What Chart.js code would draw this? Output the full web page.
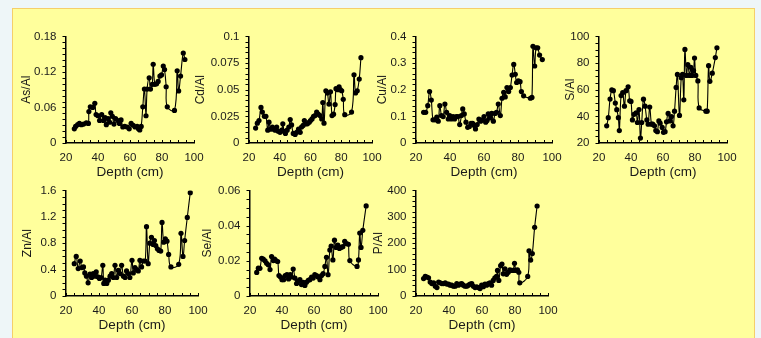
<!DOCTYPE html>
<html>
<head>
<meta charset="utf-8">
<script src="https://cdn.jsdelivr.net/npm/chart.js@4.4.1/dist/chart.umd.min.js"></script>
<style>
  body { margin: 0; background: #eef6f8; width: 761px; height: 338px; overflow: hidden; position: relative; }
  #panel { position: absolute; left: 12px; top: 8px; width: 741px; height: 340px; background: #ffff9c; border: 1.5px solid #f5cf6a; }
  canvas { position: absolute; }
</style>
</head>
<body>
<div id="panel"></div>

<script>
// Dữ liệu: độ sâu (cm) và tỉ số với Al cho từng nguyên tố
const asDepth = [25.2,26,27.3,28.4,29.6,31,32.7,34,34.3,35.2,36.7,38,38.8,40,41,42.3,43.4,44.4,45.2,46.3,47.3,48,49,50,51,52.4,53.4,54.4,55.5,56.7,58.2,59.5,60.7,62,63.2,64.5,65.3,66.1,67,68,69,70,70.7,72,72.8,73.9,74.5,75.5,76.6,77.6,78.7,79.7,80.8,81.6,82.6,83.3,87.8,89.5,90.4,91.6,93.3,94.3];
const asRatio = [0.024,0.028,0.031,0.033,0.031,0.032,0.034,0.033,0.053,0.061,0.06,0.067,0.048,0.046,0.038,0.048,0.038,0.043,0.031,0.041,0.035,0.051,0.045,0.032,0.041,0.038,0.033,0.039,0.027,0.028,0.027,0.024,0.033,0.03,0.027,0.028,0.024,0.022,0.028,0.061,0.091,0.046,0.091,0.11,0.091,0.099,0.133,0.099,0.1,0.104,0.113,0.115,0.13,0.124,0.095,0.061,0.055,0.122,0.088,0.113,0.152,0.141];

const cdDepth = [24.3,25.4,26.5,27.8,28.7,30,31,32.2,33,34,35.2,36.2,37,38,39,40.2,41.3,42,42.8,43.7,44.8,45.9,46.8,47.7,48.8,50,51,52.2,53.3,54.2,55.2,56,57,58,59.2,60,61,62,63,64,65,66.2,67.3,68,68.8,70,71,72,73,74,75,76,76.6,77.7,78.6,79.4,80.3,81.3,82.3,86.7,88.3,89.3,90.4,91.7,92.8];
const cdRatio = [0.014,0.0186,0.021,0.0334,0.029,0.025,0.025,0.012,0.0195,0.013,0.015,0.013,0.012,0.015,0.011,0.01,0.012,0.018,0.011,0.009,0.012,0.015,0.022,0.017,0.009,0.008,0.01,0.013,0.01,0.015,0.0165,0.021,0.018,0.018,0.0195,0.021,0.0226,0.025,0.0257,0.029,0.027,0.0257,0.0226,0.038,0.0186,0.049,0.047,0.0365,0.048,0.0257,0.027,0.036,0.051,0.05,0.0526,0.05,0.049,0.041,0.0266,0.029,0.064,0.047,0.049,0.06,0.08];

const cuDepth = [24.5,25.7,26.9,28,29,30,31.2,32.2,33.1,34,35,36,37,38,39,39.8,40.8,41.8,42.7,43.7,44.7,45.7,46.7,47.5,48.4,49.4,50.4,51.4,52.4,53.3,54.3,55,56,57,58,59,60,61,61.8,62.5,63.5,64.5,65.5,66.5,67.4,68.4,69.6,70.6,71.6,72.5,73.5,74.5,75.5,76.5,77.5,78.4,79.2,80.2,81.2,82,83.3,87.3,88.2,88.8,89.8,90.6,91.6,92.7,94.3];
const cuRatio = [0.115,0.115,0.14,0.193,0.161,0.087,0.087,0.097,0.082,0.14,0.103,0.099,0.146,0.115,0.09,0.103,0.09,0.099,0.09,0.099,0.099,0.069,0.103,0.128,0.109,0.078,0.059,0.062,0.074,0.074,0.066,0.053,0.069,0.09,0.082,0.087,0.099,0.078,0.084,0.109,0.094,0.111,0.082,0.111,0.115,0.146,0.103,0.168,0.19,0.173,0.208,0.193,0.208,0.255,0.295,0.258,0.227,0.233,0.23,0.193,0.177,0.168,0.171,0.363,0.289,0.357,0.357,0.33,0.313];

const sDepth = [24.8,25.8,26.9,28,29,30.2,31.1,32.1,32.7,33.8,34.8,35.9,36.9,38.2,39.2,40,40.9,41.9,43.2,44,45,45.9,46.7,47.8,48.8,49.9,50.7,51.7,52.8,53.6,54.7,55.5,56.5,57.4,58.2,59.5,60.3,61.3,62.2,63.2,64.3,65.3,66.3,67.2,68.2,69,70.3,71.4,72.2,73,73.7,74.7,75.5,76.6,77.4,78.2,79.1,79.7,80.5,81.8,82.6,86.8,87.6,88.5,89.3,90.8,92.7,93.7];
const sRatio = [32.9,39,53,59.8,59.3,50,45,39,29.3,55.6,57.8,47.6,59.3,62.2,51.7,51.2,37.3,41.5,42.7,35.4,45.1,23.7,35.4,52.9,47.6,37.3,34.1,47,34.1,34.1,32.9,29.3,28.5,36.6,34.9,31.7,28,28.5,35.9,42.2,36.6,39.8,32.9,43.9,61.7,71.5,40.7,69,71.5,52.4,90.2,70.7,78.8,70.7,76.8,70.7,74.4,83.7,70.7,66.6,46.3,43.9,43.9,78,66.3,72.4,84.1,91.5];

const znDepth = [25,26.2,27.4,28.6,29.6,30.6,31.4,32.4,33.4,34.5,35.5,36.5,37.5,38.3,39.3,40.3,41.3,42.3,42.9,43.7,44.7,45.7,46.7,47.7,48.7,49.7,50.7,51.7,52.7,53.7,54.8,55.8,56.7,57.7,58.7,60,60.8,61.8,62.8,63.8,64.8,65.8,66.8,68,68.8,69.8,70.8,71.8,72.8,73.6,74.4,75.4,76.4,77.4,78.2,79.2,80.2,81.2,82.2,83.6,88.3,89.7,90.9,91.9,93.5,95.3];
const znRatio = [0.49,0.6,0.415,0.53,0.43,0.44,0.35,0.3,0.2,0.33,0.28,0.34,0.3,0.365,0.29,0.265,0.28,0.465,0.19,0.24,0.19,0.24,0.3,0.34,0.28,0.465,0.28,0.39,0.34,0.465,0.3,0.28,0.38,0.34,0.28,0.54,0.35,0.43,0.4,0.38,0.54,0.44,0.53,0.53,1.05,0.49,0.8,0.89,0.78,0.84,0.765,0.715,0.69,0.68,1.115,0.815,0.865,0.83,0.63,0.44,0.48,0.95,0.6,0.84,1.19,1.565];

const seDepth = [24.2,25.2,26.2,27.3,28.3,29.4,30.4,31.4,32.5,33.5,34.6,35.4,36.2,37.3,38.1,39.1,40,41,42,43.1,44.1,45.2,46,47,48.1,49.1,50.1,51.2,52.2,53.3,54.3,55.3,56.4,57.4,58.5,59.5,60.5,61.6,62.6,63.7,64.7,65.7,66.8,67.8,68.8,69.9,70.7,71.8,72.8,73.8,74.9,75.9,76.9,78,79.2,80.3,81.5,82.4,86.9,87.8,88.6,89.4,90.5,92.6];
const seRatio = [0.0134,0.0158,0.0157,0.0214,0.0209,0.02,0.0186,0.0177,0.015,0.0224,0.0201,0.0209,0.0201,0.0196,0.0116,0.0108,0.0093,0.0093,0.0116,0.0121,0.0097,0.0121,0.0108,0.0153,0.0102,0.0071,0.0084,0.0093,0.0065,0.0078,0.006,0.0078,0.0089,0.0093,0.0108,0.0102,0.0121,0.0116,0.0108,0.0093,0.0116,0.0127,0.0168,0.022,0.0121,0.0261,0.0283,0.0205,0.0317,0.0276,0.0289,0.027,0.0276,0.028,0.0311,0.0298,0.0294,0.0201,0.0168,0.0205,0.0358,0.0276,0.0373,0.0512];

const pDepth = [24.6,25.6,26.6,27.6,28.6,29.6,30.7,31.7,32.7,33.7,34.7,35.7,36.7,37.7,38.7,39.7,40.7,41.7,42.7,43.7,44.7,45.7,46.7,47.7,48.7,49.7,50.8,51.8,52.8,53.8,54.8,55.8,56.8,57.8,58.8,59.8,60.8,61.8,62.8,63.8,64.8,65.8,66.8,67.8,68.8,69.4,70.2,71.3,72.1,72.9,73.9,74.9,75.9,76.9,77.9,78.9,79.7,80.5,81.5,82.3,82.9,87.7,88.5,89.5,90.5,91.9,93.4];
const pRatio = [66,74,72,69,53,47,50,37,32,53,50,47,47,50,45,45,41,41,37,37,47,41,45,47,41,37,37,41,45,47,37,32,35,32,28,41,35,45,41,47,50,41,59,69,74,97,59,115,121,84,103,82,90,99,97,97,124,97,99,90,50,74,171,136,161,260,341];

// Vạch chia nhỏ trên trục (x hướng vào trong, y hướng ra ngoài)
const tickMarks = {
  id: "tickMarks",
  afterDraw(chart, args, opts) {
    const ctx = chart.ctx;
    const x = chart.scales.x;
    const y = chart.scales.y;
    ctx.save();
    ctx.strokeStyle = "#000";
    ctx.lineWidth = 1;
    ctx.beginPath();
    for (let v = x.min; v <= x.max + 1e-9; v += opts.xStep) {
      const px = Math.round(x.getPixelForValue(v)) + 0.5;
      ctx.moveTo(px, y.bottom);
      ctx.lineTo(px, y.bottom - 3);
    }
    for (let v = y.min; v <= y.max + 1e-9; v += opts.yStep) {
      const py = Math.round(y.getPixelForValue(v)) + 0.5;
      ctx.moveTo(x.left, py);
      ctx.lineTo(x.left - 3.5, py);
    }
    ctx.stroke();
    ctx.restore();
  },
};

const font = "'Liberation Sans', Arial, sans-serif";
const ink = "#1a1a1a";

// Hàm vẽ một biểu đồ nhỏ
function addChart(box, label, depth, ratio, yMin, yMax, yStep, yMinor) {
  const YW = 65, PT = 15, PR = 20, XH = 45;
  const canvas = document.createElement("canvas");
  canvas.width = box.r - box.l + YW + PR;
  canvas.height = box.b - box.t + PT + XH;
  canvas.style.left = box.l - YW + "px";
  canvas.style.top = box.t - PT + "px";
  document.body.appendChild(canvas);

  const points = depth.map((d, i) => ({ x: d, y: ratio[i] }));

  new Chart(canvas.getContext("2d"), {
    type: "scatter",
    data: {
      datasets: [{
        data: points,
        showLine: true,
        borderColor: "#000",
        borderWidth: 1.1,
        tension: 0.4,
        pointRadius: 2.6,
        pointBackgroundColor: "#000",
        pointBorderWidth: 0,
      }],
    },
    options: {
      responsive: false,
      animation: false,
      devicePixelRatio: 1,
      layout: { padding: { top: PT, right: PR, left: 0, bottom: 0 } },
      plugins: {
        legend: { display: false },
        tooltip: { enabled: false },
        tickMarks: { xStep: 5, yStep: yMinor },
      },
      scales: {
        x: {
          type: "linear",
          min: 20,
          max: 100,
          afterFit: (s) => { s.height = XH; },
          grid: { display: false, drawTicks: false },
          border: { display: true, color: "#000", width: 1.5 },
          ticks: { stepSize: 20, padding: 8, maxRotation: 0, autoSkip: false, color: ink, font: { family: font, size: 11.5 } },
          title: { display: true, text: "Depth (cm)", color: ink, font: { family: font, size: 13.5 }, padding: { top: 0, bottom: 8 } },
        },
        y: {
          min: yMin,
          max: yMax,
          afterFit: (s) => { s.width = YW; },
          grid: { display: false, drawTicks: false },
          border: { display: true, color: "#000", width: 1.5 },
          ticks: {
            stepSize: yStep,
            padding: 9.5,
            autoSkip: false,
            color: ink,
            font: { family: font, size: 11.5 },
            callback: (v) => String(+v.toFixed(3)),
          },
          title: { display: true, text: label, color: ink, font: { family: font, size: 12 }, padding: { top: box.tx - (box.l - YW) - 7.2, bottom: 0 } },
        },
      },
    },
    plugins: [tickMarks],
  });
}

// Vị trí vùng vẽ của từng biểu đồ
const row1 = { t: 35, b: 143 };
const row2 = { t: 189, b: 296 };

addChart({ ...row1, l: 66, r: 194, tx: 27 }, "As/Al", asDepth, asRatio, 0, 0.18, 0.06, 0.01);
addChart({ ...row1, l: 249, r: 372, tx: 201 }, "Cd/Al", cdDepth, cdRatio, 0, 0.1, 0.025, 0.005);
addChart({ ...row1, l: 416, r: 552, tx: 383 }, "Cu/Al", cuDepth, cuRatio, 0, 0.4, 0.1, 0.02);
addChart({ ...row1, l: 599, r: 727, tx: 571 }, "S/Al", sDepth, sRatio, 20, 100, 20, 5);
addChart({ ...row2, l: 66, r: 198, tx: 28 }, "Zn/Al", znDepth, znRatio, 0, 1.6, 0.4, 0.1);
addChart({ ...row2, l: 250, r: 378, tx: 208 }, "Se/Al", seDepth, seRatio, 0, 0.06, 0.02, 0.005);
addChart({ ...row2, l: 416, r: 548, tx: 379 }, "P/Al", pDepth, pRatio, 0, 400, 100, 20);
</script>
</body>
</html>
